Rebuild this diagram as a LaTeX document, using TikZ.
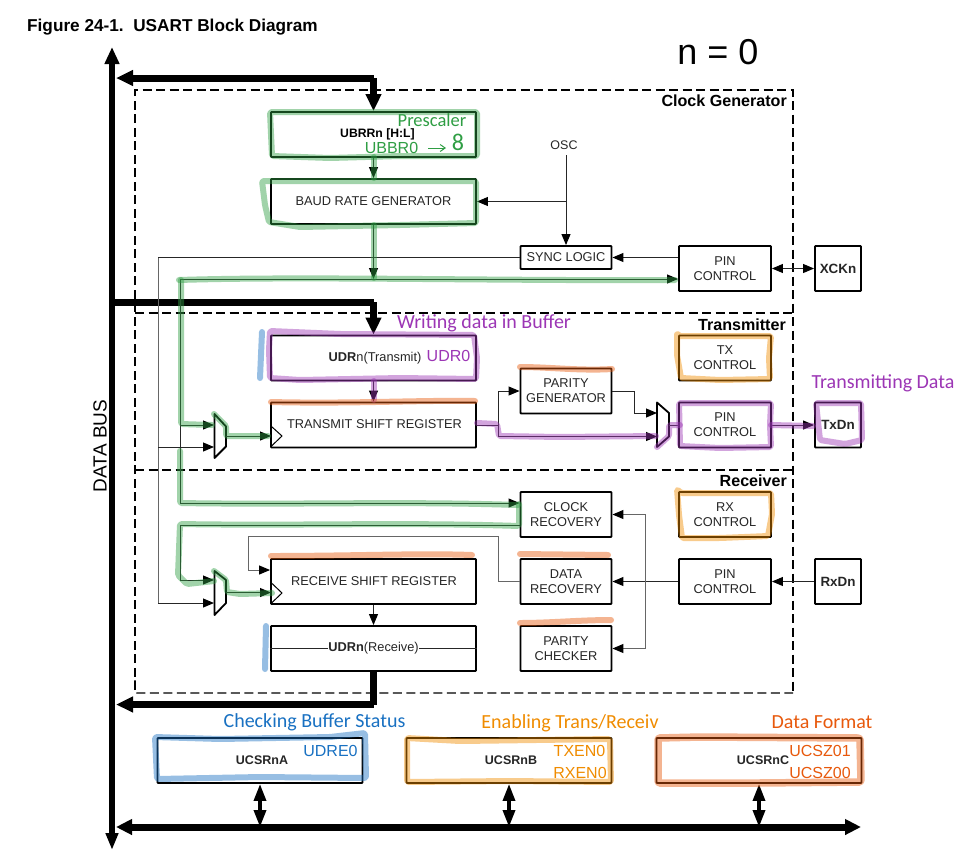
\documentclass[tikz,border=0pt]{standalone}
\usepackage{fontspec}
\setmainfont{Liberation Sans}
\newfontfamily\handfont{Carlito}
\usetikzlibrary{arrows.meta,positioning,calc}
\definecolor{egreen}{HTML}{2F9E44}
\definecolor{epurple}{HTML}{9C36B5}
\definecolor{eorange}{HTML}{E8590C}
\definecolor{eamber}{HTML}{F08C00}
\definecolor{eblue}{HTML}{1971C2}
\newcommand{\fsz}[1]{\fontsize{#1}{#1}\selectfont}
\tikzset{
  block/.style={draw=black,line width=1.9pt,rounded corners=0.8pt,inner sep=0pt,align=center,text=black!85,font={\fontsize{12.8}{15}\selectfont}},
  bigblock/.style={block,minimum width=205pt,minimum height=45pt},
  smallblock/.style={block,minimum width=91pt,minimum height=45pt},
  pinblock/.style={block,minimum width=92pt,minimum height=45pt},
  padblock/.style={block,minimum width=46pt,minimum height=45pt,font={\fsz{13.4}\bfseries}},
  regblock/.style={block,minimum width=205pt,minimum height=45pt},
  thin line/.style={draw=black!85,line width=1pt},
  grey line/.style={draw=black!60,line width=1pt},
  flow/.style={thin line,-{Triangle[length=11pt,width=9pt,color=black]}},
  greyflow/.style={grey line,-{Triangle[length=11pt,width=9pt,color=black]}},
  bus/.style={draw=black,line width=7pt},
  busend/.style={bus,-{Triangle[length=17pt,width=15pt]}},
  busdbl/.style={bus,{Triangle[length=16pt,width=15pt]}-{Triangle[length=16pt,width=15pt]}},
  stub/.style={draw=black,line width=3.5pt,{Triangle[length=17pt,width=12pt]}-{Triangle[length=17pt,width=12pt]}},
  frameline/.style={draw=black,line width=1.9pt,dash pattern=on 9pt off 4.5pt},
  framelabel/.style={font={\fsz{16.1}\bfseries},inner sep=0pt,anchor=east},
  muxshape/.style={draw=black,line width=1.8pt,line join=round,fill=white},
  hl/.style={line width=6pt,line cap=round,line join=round,opacity=0.45,rounded corners=1.5pt},
  hlg/.style={hl,draw=egreen},
  hlp/.style={hl,draw=epurple},
  hlo/.style={hl,draw=eorange},
  hla/.style={hl,draw=eamber},
  hlb/.style={hl,draw=eblue},
  note/.style={inner sep=0pt,font={\handfont\fsz{20}}},
}
\begin{document}
\begin{tikzpicture}[x=1pt,y=-1pt]
\useasboundingbox (0,0) rectangle (965,863);
\fill[white] (0,0) rectangle (965,863);
% titles
\node[inner sep=0pt,anchor=west,font={\fsz{17.2}\bfseries}] (title) at (27,27) {Figure 24-1.\ \ USART Block Diagram};
\node[inner sep=0pt,font={\fsz{36}}] (neq) at (718,52) {n = 0};
\node[inner sep=0pt,rotate=90,font={\fsz{19}}] (databus) at (100,446) {DATA BUS};
% dashed frames
\draw[frameline] (135,690) -- (135,90) -- (793,90) -- (793,693);
\draw[frameline] (135,313) -- (793,313);
\draw[frameline] (135,470) -- (793,470);
\draw[frameline,line width=1.3pt,rounded corners=2pt] (135,680) -- (135,693) -- (793,693);
\node[framelabel] (lclk) at (787,100.5) {Clock Generator};
\node[framelabel] (ltx) at (786,324.5) {Transmitter};
\node[framelabel] (lrx) at (787,481) {Receiver};
% blocks
\node[bigblock] (ubrr) at (373.5,134.5) {};
\node[bigblock] (baud) at (373.5,201.5) {BAUD RATE GENERATOR};
\node[smallblock,minimum height=23pt] (sync) at (566,257.5) {SYNC LOGIC};
\node[pinblock] (pinx) at (725,268.5) {PIN\\CONTROL};
\node[padblock] (xck) at (838,268.5) {XCKn};
\node[bigblock] (udrt) at (373.5,358) {};
\node[bigblock] (tsr) at (373.5,425) {};
\node[smallblock] (parg) at (566,391) {PARITY\\GENERATOR};
\node[pinblock] (txc) at (725,358) {TX\\CONTROL};
\node[pinblock] (pint) at (725,425) {PIN\\CONTROL};
\node[padblock] (txd) at (838,425) {TxDn};
\node[smallblock] (clkr) at (566,514.5) {CLOCK\\RECOVERY};
\node[pinblock] (rxc) at (725,514.5) {RX\\CONTROL};
\node[smallblock] (datr) at (566,581.5) {DATA\\RECOVERY};
\node[pinblock] (pinr) at (725,581.5) {PIN\\CONTROL};
\node[padblock] (rxd) at (838,581.5) {RxDn};
\node[smallblock] (parc) at (566,648.5) {PARITY\\CHECKER};
\node[bigblock] (rsr) at (373.5,581.5) {};
\node[bigblock] (udrr) at (373.5,648.5) {};
\node[regblock] (ua) at (260,760.5) {};
\node[regblock] (ub) at (509,760.5) {};
\node[regblock] (uc) at (759,760.5) {};
% block texts placed off-centre
\node[inner sep=0pt,font={\fsz{12.2}\bfseries}] (tubrr) at (377.5,134) {UBRRn [H:L]};
\node[inner sep=0pt,font={\fsz{12.8}},text=black!85] (tudrt) at (375,358) {\textbf{UDR}n(Transmit)};
\node[inner sep=0pt,font={\fsz{12.8}},text=black!85] (ttsr) at (374.5,424.5) {TRANSMIT SHIFT REGISTER};
\node[inner sep=0pt,font={\fsz{12.8}},text=black!85] (trsr) at (374,581.5) {RECEIVE SHIFT REGISTER};
\node[inner sep=0pt,font={\fsz{12.5}\bfseries},text=black!85] (tua) at (262,760) {UCSRnA};
\node[inner sep=0pt,font={\fsz{12.5}\bfseries},text=black!85] (tub) at (511,760) {UCSRnB};
\node[inner sep=0pt,font={\fsz{12.5}\bfseries},text=black!85] (tuc) at (763,760) {UCSRnC};
% multiplexers and clock marks
\draw[muxshape] (214.5,414) -- (226,426.5) -- (226,446.5) -- (214.5,458) -- cycle;
\draw[muxshape] (214.5,571) -- (226,580) -- (226,603) -- (214.5,615) -- cycle;
\draw[muxshape] (657,402.5) -- (669,413) -- (669,436.5) -- (657,447) -- cycle;
\draw[line width=1pt] (271.5,426.5) -- (282,436) -- (271.5,446);
\draw[line width=1pt] (271.5,583) -- (282,593) -- (271.5,603);
% named connector ends
\coordinate (busTop) at (112,47);
\coordinate (busBot) at (112,850);
\coordinate (busBL) at (116,827);
\coordinate (busBR) at (861,827);
\coordinate (t1) at (116,78);
\coordinate (t1c) at (373.5,78);
\coordinate (t2s) at (112,302);
\coordinate (t2c) at (373.5,302);
\coordinate (t3) at (116,704.5);
\coordinate (t3c) at (373.5,704.5);
\coordinate (osc) at (566,155);
\coordinate (oscj) at (566,201.5);
\coordinate (g0) at (373.5,279);
\coordinate (gL) at (180,279);
\coordinate (gM) at (180,425);
\coordinate (gB) at (180,503);
\coordinate (kL) at (158,257.5);
\coordinate (kM) at (158,447);
\coordinate (kB) at (158,603);
\coordinate (muxAa) at (214,425);
\coordinate (muxAb) at (214,447);
\coordinate (muxAo) at (226,436);
\coordinate (muxBa) at (214,580);
\coordinate (muxBb) at (214,603);
\coordinate (muxBo) at (226,592.5);
\coordinate (muxCa) at (657,413);
\coordinate (muxCb) at (657,436.5);
\coordinate (muxCo) at (669,425);
\coordinate (rsrck) at (271,592.5);
\coordinate (tsrck) at (271,436);
\coordinate (rxj) at (645.5,581.5);
\coordinate (tj) at (498,425);
% buses
\draw[bus,line width=6pt,{Triangle[length=17pt,width=14pt]}-{Triangle[length=17pt,width=12pt]}] (busTop) -- (busBot);
\draw[bus] (t2s) -- (t2c);
\draw[busend] (t2c) -- (udrt.north);
\draw[busend] (t1c) -- (ubrr.north);
\draw[busend] (t1c) -- (t1);
\draw[bus] (udrr.south) -- (t3c);
\draw[busend] (t3c) -- (t3);
\draw[busdbl] (busBL) -- (busBR);
\draw[stub] (ua.south) -- (ua.south |- busBL);
\draw[stub] (ub.south) -- (ub.south |- busBL);
\draw[stub] (uc.south) -- (uc.south |- busBL);
% clock generator connectors
\node[inner sep=0pt,font={\fsz{12.5}},text=black!85] (osct) at (564,145) {OSC};
\draw[flow] (osc) -- (sync.north -| osc);
\draw[flow] (oscj) -- (baud.east);
\draw[flow] (ubrr.south) -- (baud.north);
\draw[flow] (baud.south) -- (g0);
\draw[flow] (pinx.west |- sync.east) -- (sync.east);
\draw[thin line,{Triangle[length=11pt,width=9pt,color=black]}-{Triangle[length=11pt,width=9pt,color=black]}] (pinx.east) -- (xck.west);
\draw[flow] (gL) -- (pinx.west |- gL);
\draw[thin line] (gL) -- (gB);
\draw[flow] (gB) -- (clkr.west |- gB);
\draw[flow] (gM) -- (muxAa);
\draw[thin line] (sync.west) -- (kL);
\draw[grey line] (kL) -- (kB);
\draw[flow] (kM) -- (muxAb);
\draw[flow] (kB) -- (muxBb);
% transmitter connectors
\draw[flow] (muxAo) -- (tsrck);
\draw[flow] (udrt.south) -- (tsr.north);
\draw[flow] (tsr.east) -- (tj) |- (parg.west);
\draw[flow] (tj) |- (muxCb);
\draw[flow] (parg.east) -- (634,391) |- (muxCa);
\draw[thin line] (muxCo) -- (pint.west);
\draw[flow] (pint.east) -- (txd.west);
% receiver connectors
\draw[flow] (clkr.west |- 0,525) -- (180,525) |- (muxBa);
\draw[flow] (muxBo) -- (rsrck);
\draw[greyflow] (datr.west) -- (498,581.5) |- (248.5,536.5) |- (rsr.west |- 0,570);
\draw[flow] (rsr.south) -- (udrr.north);
\draw[flow] (rxd.west) -- (pinr.east);
\draw[flow] (pinr.west) -- (datr.east);
\draw[greyflow] (rxj) |- (clkr.east);
\draw[greyflow] (rxj) |- (parc.east);
\draw[thin line,line width=1.5pt] (udrr.west) -- (udrr.east);
\node[inner sep=0pt,fill=white,font={\fsz{12.8}},text=black!85] (tudrr) at (373.5,648.5) {\textbf{UDRn}(Receive)};
% highlights: green
\draw[hlg] (270,112) -- (477,112) -- (477,156) -- (400,156) -- (330,158) -- (272,156) -- cycle;
\draw[hlg] (262,181) -- (476,181) -- (476,223) -- (400,225) -- (300,227) -- (269,222) -- (265,205) -- cycle;
\draw[hlg] (373.5,157) -- (373.5,178);
\draw[hlg] (373.5,225) -- (373.5,278);
\draw[hlg] (179,280) .. controls (300,276) and (500,281) .. (675,280);
\draw[hlg] (181,280) -- (181,424) -- (212,425);
\draw[hlg] (180,451) -- (180,503) .. controls (300,505) and (400,501) .. (518,505);
\draw[hlg] (214,414) -- (226,426) -- (226,436) -- (268,436);
\draw[hlg] (519,504) -- (519,526) .. controls (400,522) and (300,526) .. (180,524) -- (178,575) -- (187,584) -- (214,581);
\draw[hlg] (214,571) -- (226,580) -- (227,592) -- (240,594) -- (272,593);
% purple
\draw[hlp] (270,331) -- (340,334) -- (474,335) -- (477,358) -- (476,379) -- (400,378) -- (300,380) -- (270,378) -- (269,350) -- cycle;
\draw[hlp] (373.5,381) -- (373.5,400);
\draw[hlp] (477,423) -- (497,424) -- (499,436) -- (560,437) -- (656,436);
\draw[hlp] (657,447) -- (669,436) -- (669,425) -- (680,425);
\draw[hlp] (679,403) -- (771,403) -- (770,425) -- (771,447) -- (720,448) -- (680,446) -- cycle;
\draw[hlp] (771,425) -- (813,426);
\draw[hlp] (816,403) -- (861,403) -- (862,440) -- (845,444) -- (820,440) -- cycle;
% orange
\draw[hlo] (271,402) .. controls (350,404) and (420,400) .. (475,401);
\draw[hlo] (520,367) .. controls (550,367) and (580,371) .. (612,369);
\draw[hlo] (271,556) .. controls (350,556) and (420,553) .. (472,555);
\draw[hlo] (520,554) -- (608,555);
\draw[hlo] (520,623) .. controls (550,623) and (580,620) .. (611,620);
\draw[hlo,line width=7.5pt] (658,738) -- (700,737) -- (860,738) -- (861,782) -- (758,783) -- (658,783) -- cycle;
% amber
\draw[hla] (677,333) -- (679,336) -- (771,336) -- (769,358) -- (770,379) -- (720,380) -- (681,378) -- (677,355) -- cycle;
\draw[hla] (677,489) -- (681,493) -- (771,493) -- (772,514) -- (768,536) -- (720,538) -- (682,538) -- (679,515) -- cycle;
\draw[hla] (407,738) -- (460,741) -- (610,739) -- (611,782) -- (510,781) -- (407,782) -- cycle;
% blue
\draw[hlb] (262,332) -- (260,378);
\draw[hlb] (266,626) -- (265,669);
\draw[hlb] (155,737) -- (220,739) -- (330,737) -- (365,733) -- (366,778) -- (260,777) -- (157,779) -- cycle;
% notes
\node[note,text=egreen,font={\handfont\fsz{18.5}}] (n1) at (432,120.5) {Prescaler};
\node[inner sep=0pt,text=egreen,font={\fsz{16}}] (n2) at (391.5,147.5) {UBBR0};
\coordinate (n3a) at (428,148);
\coordinate (n3b) at (446,148);
\draw[egreen,line width=1pt,-{Straight Barb[length=5pt,width=7pt]}] (n3a) -- (n3b);
\node[note,text=egreen,font={\handfont\fsz{24}}] (n4) at (458,142.5) {8};
\node[note,text=epurple] (n5) at (484,323) {Writing data in Buffer};
\node[inner sep=0pt,text=epurple,font={\fsz{16}}] (n6) at (448.5,355.5) {UDR0};
\node[note,text=epurple] (n7) at (883,383) {Transmitting Data};
\node[note,text=eblue] (n8) at (314.5,722) {Checking Buffer Status};
\node[note,text=eamber] (n9) at (570,723) {Enabling Trans/Receiv};
\node[note,text=eorange] (n10) at (822,722) {Data Format};
\node[inner sep=0pt,text=eblue,font={\fsz{16}}] (n11) at (330.5,750.5) {UDRE0};
\node[inner sep=0pt,text=eamber,font={\fsz{16}}] (n12) at (579.5,750.5) {TXEN0};
\node[inner sep=0pt,text=eamber,font={\fsz{16}}] (n13) at (580,772.5) {RXEN0};
\node[inner sep=0pt,text=eorange,font={\fsz{16}}] (n14) at (820,750.5) {UCSZ01};
\node[inner sep=0pt,text=eorange,font={\fsz{16}}] (n15) at (820,772.5) {UCSZ00};
\end{tikzpicture}
\end{document}
